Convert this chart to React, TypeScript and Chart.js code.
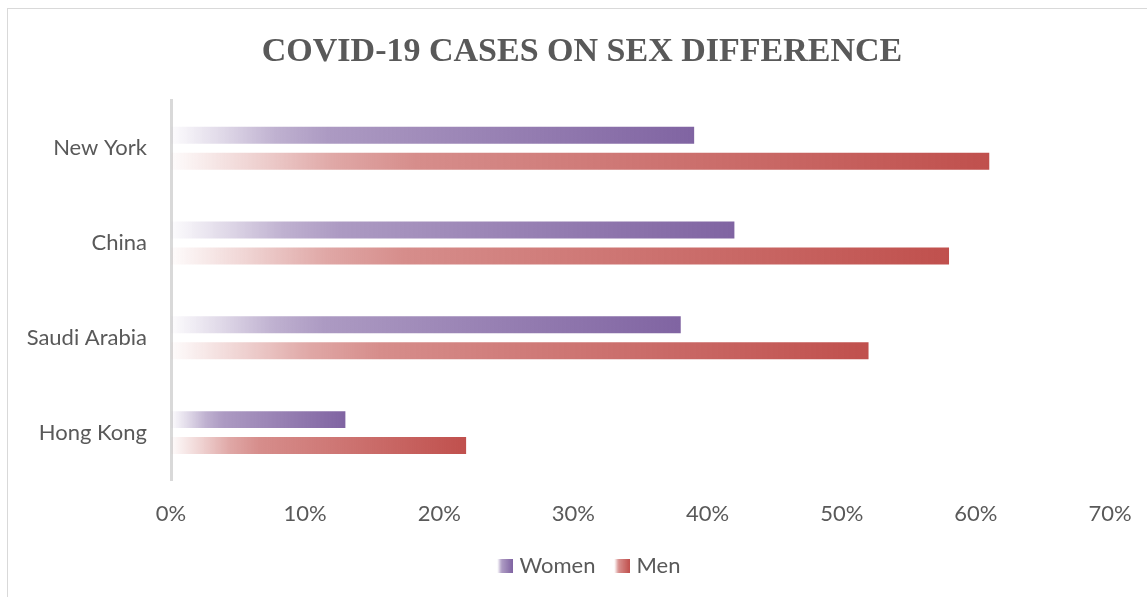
import React, { useEffect, useRef } from "react";
import { Chart, registerables } from "chart.js";

Chart.register(...registerables);

const categories = ["New York", "China", "Saudi Arabia", "Hong Kong"];
const women = [39, 42, 38, 13];
const men = [61, 58, 52, 22];
const xTicks = [0, 10, 20, 30, 40, 50, 60, 70];
const seriesNames = ["Women", "Men"];

const PURPLE = [128, 100, 162];
const RED = [192, 80, 77];
const STOPS: [number, number][] = [
  [0, 0.02],
  [0.1, 0.25],
  [0.2, 0.5],
  [0.3, 0.65],
  [1, 1],
];

const rgba = (c: number[], a: number) => `rgba(${c[0]},${c[1]},${c[2]},${a})`;

function makeBg(c: number[]) {
  return (ctx: any) => {
    const chart = ctx.chart;
    if (!chart.chartArea || ctx.type !== "data") return rgba(c, 1);
    const xs = chart.scales.x;
    const v = ctx.parsed ? ctx.parsed.x : ctx.raw;
    const x0 = xs.getPixelForValue(0);
    const x1 = xs.getPixelForValue(v);
    const g = chart.ctx.createLinearGradient(x0, 0, x1, 0);
    STOPS.forEach(([p, a]) => g.addColorStop(p, rgba(c, a)));
    return g;
  };
}

// legend swatch image: 23px wide, 15px swatch at its right edge
function swatch(c: number[]) {
  const cv = document.createElement("canvas");
  cv.width = 23;
  cv.height = 14;
  const cx = cv.getContext("2d")!;
  const g = cx.createLinearGradient(8, 0, 23, 0);
  STOPS.forEach(([p, a]) => g.addColorStop(p, rgba(c, a)));
  cx.fillStyle = g;
  cx.fillRect(8, 0, 15, 14);
  return cv;
}

const FONT = "Lato, 'Open Sans', sans-serif";
const GRAY = "#595959";

const shiftPlugin = {
  id: "shiftBlocks",
  afterLayout(chart: any) {
    const lg = chart.legend;
    if (lg) {
      lg.left += 28;
      lg.right += 28;
    }
    const tb = chart.titleBlock;
    if (tb) {
      tb.left += 23;
      tb.right += 23;
    }
  },
};

export default function App() {
  const ref = useRef<HTMLCanvasElement>(null);
  useEffect(() => {
    const colors = [PURPLE, RED];
    const chart = new Chart(ref.current!, {
      type: "bar",
      plugins: [shiftPlugin],
      data: {
        labels: categories,
        datasets: [
          { label: seriesNames[0], data: women, backgroundColor: makeBg(PURPLE) as any },
          { label: seriesNames[1], data: men, backgroundColor: makeBg(RED) as any },
        ],
      },
      options: {
        indexAxis: "y",
        animation: false,
        responsive: false,
        maintainAspectRatio: false,
        categoryPercentage: 0.547,
        barPercentage: 0.654,
        layout: { padding: { top: 0, left: 0, right: 37, bottom: 10 } },
        plugins: {
          tooltip: { enabled: false },
          title: {
            display: true,
            text: "COVID-19 CASES ON SEX DIFFERENCE",
            color: GRAY,
            font: { family: "'Liberation Serif', 'Times New Roman', serif", size: 34, weight: "bold" },
            padding: { top: 23, bottom: 28 },
          },
          legend: {
            position: "bottom",
            labels: {
              color: GRAY,
              font: { family: FONT, size: 22 },
              usePointStyle: true,
              pointStyleWidth: 15,
              padding: 15,
              generateLabels: () =>
                seriesNames.map((n, i) => ({
                  text: n,
                  pointStyle: swatch(colors[i]) as any,
                  fillStyle: rgba(colors[i], 1),
                  strokeStyle: "transparent",
                  lineWidth: 0,
                  hidden: false,
                  datasetIndex: i,
                  fontColor: GRAY,
                })),
            },
          },
        },
        scales: {
          x: {
            min: 0,
            max: 70,
            afterBuildTicks: (s: any) => {
              s.ticks = xTicks.map((v) => ({ value: v }));
            },
            ticks: {
              color: GRAY,
              font: { family: FONT, size: 22 },
              padding: 21,
              callback: (v: any) => v + "%",
            },
            grid: { display: false, drawTicks: false },
            border: { display: false },
            afterFit: (s: any) => {
              s.height = 60;
              s.paddingLeft = 0;
              s.paddingRight = 0;
            },
          },
          y: {
            ticks: {
              color: GRAY,
              font: { family: FONT, size: 22 },
              padding: 24,
            },
            grid: { display: false, drawTicks: false },
            border: { display: true, color: "#d9d9d9", width: 3 },
            afterFit: (s: any) => {
              s.width = 163;
            },
          },
        },
      },
    });
    return () => chart.destroy();
  }, []);
  return (
    <div
      style={{
        position: "absolute",
        left: 7,
        top: 8,
        width: 1140,
        height: 589,
        borderTop: "1px solid #d9d9d9",
        borderLeft: "1px solid #d9d9d9",
        boxSizing: "border-box",
        background: "#fff",
      }}
    >
      <canvas ref={ref} width={1139} height={588} style={{ display: "block" }} />
    </div>
  );
}
